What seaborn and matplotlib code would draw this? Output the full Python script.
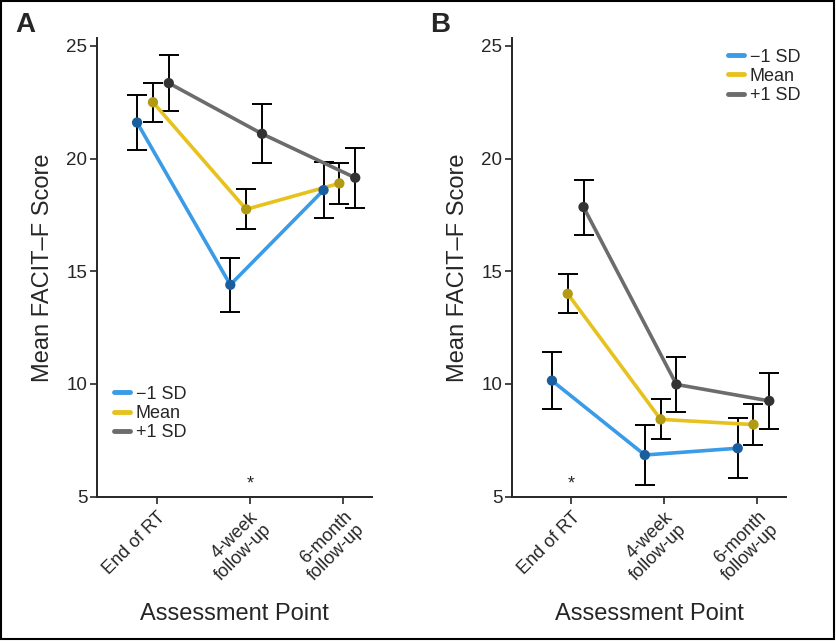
import numpy as np
import pandas as pd
import matplotlib
matplotlib.use("Agg")
import matplotlib.pyplot as plt
import seaborn as sns
from matplotlib.patches import Rectangle

# ── DATA ─────────────────────────────────────────────────────────────────────
timepoints = ["End of RT", "4-week\nfollow-up", "6-month\nfollow-up"]
groups = ["\u22121 SD", "Mean", "+1 SD"]

# panel A
a_low = [21.6, 14.4, 18.6]
a_low_err = [1.2, 1.2, 1.25]
a_mean = [22.5, 17.75, 18.9]
a_mean_err = [0.87, 0.88, 0.9]
a_high = [23.35, 21.1, 19.15]
a_high_err = [1.25, 1.3, 1.32]

# panel B
b_low = [10.15, 6.85, 7.15]
b_low_err = [1.28, 1.31, 1.33]
b_mean = [14.0, 8.43, 8.2]
b_mean_err = [0.86, 0.89, 0.9]
b_high = [17.85, 9.98, 9.25]
b_high_err = [1.22, 1.22, 1.25]

# significance marker position (category index) per panel
star_a = 1
star_b = 0

# ── STYLE ────────────────────────────────────────────────────────────────────
sns.set_style("ticks")
plt.rcParams['font.family'] = ['Liberation Sans', 'DejaVu Sans']

line_colors = {groups[0]: "#3a9be6", groups[1]: "#e7c21e", groups[2]: "#6c6c6c"}
dot_colors = {groups[0]: "#1b5e9e", groups[1]: "#b39a14", groups[2]: "#333333"}
offsets = {groups[0]: -0.21, groups[1]: -0.04, groups[2]: 0.13}


def make_frame(low, low_err, mean, mean_err, high, high_err):
    rows = []
    for g, vals, errs in zip(groups, [low, mean, high], [low_err, mean_err, high_err]):
        for i, (v, e) in enumerate(zip(vals, errs)):
            rows.append({"group": g, "idx": i, "x": i + offsets[g], "score": v, "err": e})
    return pd.DataFrame(rows)


def draw_panel(ax, df, star_idx, legend_anchor):
    # error bars first, then lines, then dots on top
    for g in groups:
        sub = df[df.group == g]
        ax.errorbar(sub.x, sub.score, yerr=sub.err, fmt="none", ecolor="black",
                    elinewidth=1.4, capsize=7, capthick=1.4, zorder=2)
    sns.lineplot(data=df, x="x", y="score", hue="group", hue_order=groups,
                 palette=line_colors, linewidth=2.6, ax=ax, zorder=3,
                 estimator=None, sort=True, legend=True)
    sns.scatterplot(data=df, x="x", y="score", hue="group", hue_order=groups,
                    palette=dot_colors, s=55, edgecolor="none", ax=ax, zorder=4,
                    legend=False)

    ax.set_xlim(-0.64, 2.31)
    ax.set_ylim(5, 25.35)
    ax.set_yticks([5, 10, 15, 20, 25])
    ax.set_xticks(range(len(timepoints)))
    ax.set_xticklabels(timepoints, rotation=45, ha="right", rotation_mode="anchor",
                       fontsize=13, linespacing=1.1)
    ax.tick_params(axis="y", labelsize=13.5, length=5, width=1.2, pad=2)
    ax.tick_params(axis="x", length=5, width=1.2)
    for sp in ["left", "bottom"]:
        ax.spines[sp].set_linewidth(1.4)
    sns.despine(ax=ax)
    ax.set_ylabel("Mean FACIT\u2013F Score", fontsize=17, labelpad=9)
    ax.set_xlabel("Assessment Point", fontsize=17, labelpad=13)
    ax.text(star_idx, 5.2, "*", ha="center", va="bottom", fontsize=13)

    handles, labels = ax.get_legend_handles_labels()
    ax.legend(handles, labels, loc="upper left", bbox_to_anchor=legend_anchor,
              frameon=False, fontsize=13, handlelength=0.9, handletextpad=0.3,
              labelspacing=0.12, borderpad=0, borderaxespad=0)
    for h in ax.get_legend().get_lines():
        h.set_linewidth(3.5)


fig = plt.figure(figsize=(8.37, 6.41), dpi=100)
W, H = 837, 641
ax_a = fig.add_axes([97 / W, 1 - 496.7 / H, (372 - 97) / W, (496.7 - 38) / H])
ax_b = fig.add_axes([512 / W, 1 - 496.7 / H, (786 - 512) / W, (496.7 - 38) / H])

df_a = make_frame(a_low, a_low_err, a_mean, a_mean_err, a_high, a_high_err)
df_b = make_frame(b_low, b_low_err, b_mean, b_mean_err, b_high, b_high_err)

draw_panel(ax_a, df_a, star_a, (0.062, 0.242))
draw_panel(ax_b, df_b, star_b, (0.788, 0.977))

fig.text(25 / W, 1 - 25 / H, "A", fontsize=20, fontweight="bold",
         ha="center", va="center")
fig.text(440 / W, 1 - 25 / H, "B", fontsize=20, fontweight="bold",
         ha="center", va="center")

# outer frame
fig.patches.append(Rectangle((0.001, 0.003), 0.996, 0.995, transform=fig.transFigure,
                             fill=False, edgecolor="black", linewidth=1.5))

fig.savefig("out.png", dpi=100)
